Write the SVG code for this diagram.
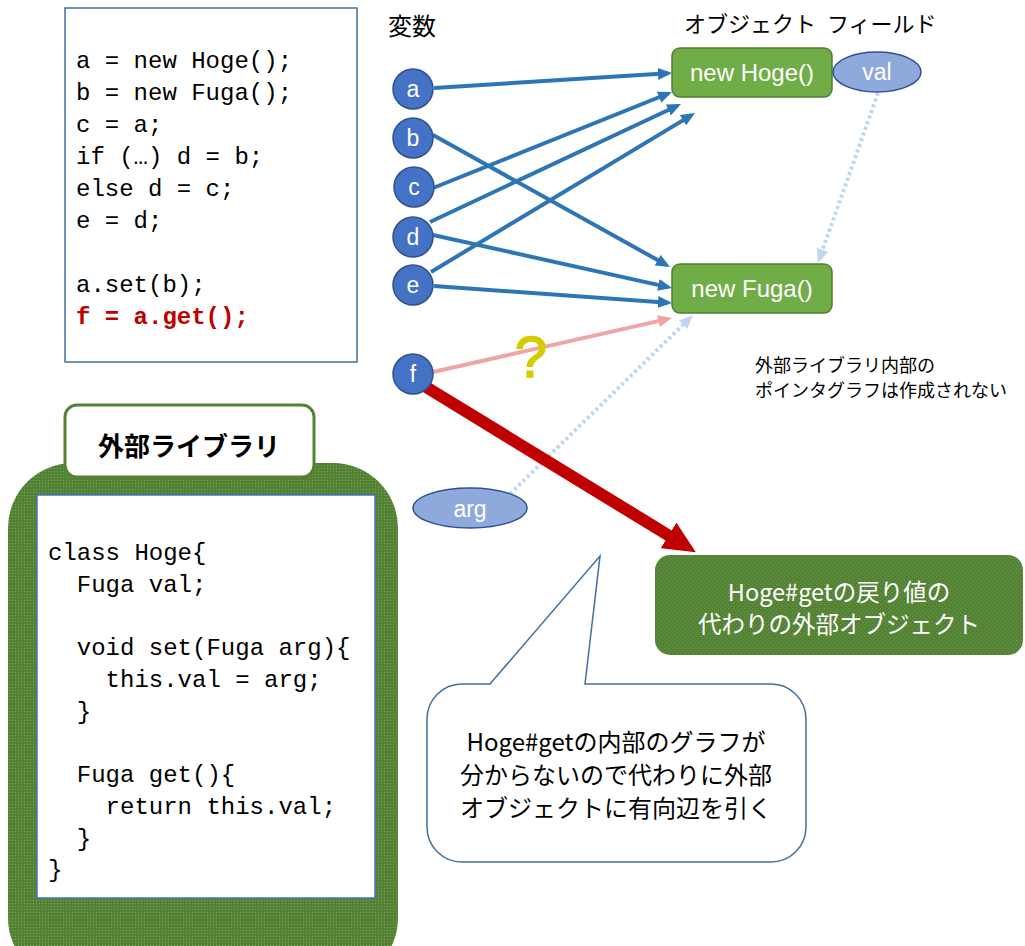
<svg xmlns="http://www.w3.org/2000/svg" width="1025" height="946" viewBox="0 0 1025 946">
<style>
.code{font-family:"Liberation Mono",monospace;font-size:24px;fill:#000}
.red{fill:#C00000;font-weight:bold}
.jp{font-family:"Noto Sans CJK JP",sans-serif}
.lbl{font-family:"Liberation Sans",sans-serif;fill:#fff;text-anchor:middle}
.var circle{fill:#4472C4;stroke:#2F528F;stroke-width:1.5}
.obj rect{fill:#70AD47;stroke:#507E32;stroke-width:1.5}
.fld ellipse{fill:#8EA9DB;stroke:#2F528F;stroke-width:1.5}
.blue{stroke:#2E75B6;stroke-width:4;fill:none;marker-end:url(#ab)}
.dot{stroke:#BDD7EE;stroke-width:4;fill:none;stroke-dasharray:3 3;marker-end:url(#al)}
</style>
<defs>
<marker id="ab" markerUnits="userSpaceOnUse" markerWidth="14" markerHeight="12" refX="10" refY="6" orient="auto"><path d="M0,0 L14,6 L0,12 Z" fill="#2E75B6"/></marker>
<marker id="al" markerUnits="userSpaceOnUse" markerWidth="14" markerHeight="12" refX="10" refY="6" orient="auto"><path d="M0,0 L14,6 L0,12 Z" fill="#BDD7EE"/></marker>
<marker id="ap" markerUnits="userSpaceOnUse" markerWidth="14" markerHeight="12" refX="10" refY="6" orient="auto"><path d="M0,0 L14,6 L0,12 Z" fill="#F0A5A5"/></marker>
<marker id="ar" markerUnits="userSpaceOnUse" markerWidth="32" markerHeight="30" refX="2" refY="15" orient="auto"><path d="M0,0 L32,15 L0,30 Z" fill="#C00000"/></marker>
<pattern id="gp" width="3" height="3" patternUnits="userSpaceOnUse"><rect width="3" height="3" fill="#548235"/><rect width="1" height="1" fill="#7BA35C"/></pattern>
<pattern id="gp2" width="4" height="4" patternUnits="userSpaceOnUse"><rect width="4" height="4" fill="#548235"/><rect x="0" y="0" width="1" height="1" fill="#6F9B50"/><rect x="2" y="2" width="1" height="1" fill="#6F9B50"/></pattern>
</defs>

<g id="code-main">
<rect x="65" y="8" width="292" height="354" fill="#fff" stroke="#41719C" stroke-width="1.5"/>
<text class="code" x="76" y="68">a = new Hoge();</text>
<text class="code" x="76" y="100">b = new Fuga();</text>
<text class="code" x="76" y="132">c = a;</text>
<text class="code" x="76" y="164">if (…) d = b;</text>
<text class="code" x="76" y="196">else d = c;</text>
<text class="code" x="76" y="228">e = d;</text>
<text class="code" x="76" y="292">a.set(b);</text>
<text class="code red" x="76" y="324">f = a.get();</text>
</g>

<g id="library">
<rect x="8" y="463" width="390" height="520" rx="65" fill="url(#gp)"/>
<rect x="37" y="495" width="338" height="403" fill="#fff" stroke="#4472C4" stroke-width="1.5"/>
<rect x="65" y="405" width="249" height="72" rx="12" fill="#fff" stroke="#548235" stroke-width="3"/>
<text class="jp" x="189" y="456" font-size="26" font-weight="bold" text-anchor="middle">外部ライブラリ</text>
<text class="code" x="48" y="560">class Hoge{</text>
<text class="code" x="76.8" y="592">Fuga val;</text>
<text class="code" x="76.8" y="655">void set(Fuga arg){</text>
<text class="code" x="105.6" y="687">this.val = arg;</text>
<text class="code" x="76.8" y="719">}</text>
<text class="code" x="76.8" y="782">Fuga get(){</text>
<text class="code" x="105.6" y="814">return this.val;</text>
<text class="code" x="76.8" y="846">}</text>
<text class="code" x="48" y="877">}</text>
</g>

<g id="titles">
<text class="jp" x="388" y="35" font-size="24">変数</text>
<text class="jp" font-size="22" y="32"><tspan x="684">オブジェクト</tspan><tspan x="827">フィールド</tspan></text>
<text class="jp" x="755" y="372" font-size="18">外部ライブラリ内部の</text>
<text class="jp" x="755" y="397" font-size="18">ポインタグラフは作成されない</text>
</g>

<g id="connectors">
<line class="blue" x1="434" y1="88" x2="668" y2="73.3"/>
<line class="blue" x1="433" y1="188" x2="668.3" y2="93.5"/>
<line class="blue" x1="430" y1="222" x2="677.4" y2="105.7"/>
<line class="blue" x1="431" y1="272" x2="691.6" y2="115.1"/>
<line class="blue" x1="433" y1="135" x2="666.5" y2="265"/>
<line class="blue" x1="433" y1="235" x2="668.1" y2="287.1"/>
<line class="blue" x1="434" y1="286" x2="668" y2="302.7"/>
<line x1="433" y1="372" x2="668.1" y2="318.9" stroke="#F0A5A5" stroke-width="4" marker-end="url(#ap)"/>
<line class="dot" x1="878" y1="93" x2="819.3" y2="259.2"/>
<line class="dot" x1="510" y1="494" x2="690.1" y2="317.8"/>
<line x1="426" y1="387" x2="670.3" y2="536.5" stroke="#C00000" stroke-width="12" marker-end="url(#ar)"/>
</g>

<g id="var-a" class="var"><circle cx="413" cy="89" r="20"/><text class="lbl" x="413" y="97" font-size="23">a</text></g>
<g id="var-b" class="var"><circle cx="413" cy="138" r="20"/><text class="lbl" x="413" y="146" font-size="23">b</text></g>
<g id="var-c" class="var"><circle cx="414" cy="187" r="20"/><text class="lbl" x="414" y="195" font-size="23">c</text></g>
<g id="var-d" class="var"><circle cx="413" cy="237" r="20"/><text class="lbl" x="413" y="245" font-size="23">d</text></g>
<g id="var-e" class="var"><circle cx="413" cy="285" r="20"/><text class="lbl" x="413" y="293" font-size="23">e</text></g>
<g id="var-f" class="var"><circle cx="413" cy="374" r="20"/><text class="lbl" x="413" y="382" font-size="23">f</text></g>

<g id="obj-hoge" class="obj"><rect x="672" y="48" width="160" height="49" rx="8"/><text class="lbl" x="752" y="81" font-size="24">new Hoge()</text></g>
<g id="obj-fuga" class="obj"><rect x="672" y="264" width="160" height="49" rx="8"/><text class="lbl" x="752" y="297" font-size="24">new Fuga()</text></g>
<g id="field-val" class="fld"><ellipse cx="877" cy="72" rx="44" ry="20"/><text class="lbl" x="877" y="80" font-size="23">val</text></g>
<g id="field-arg" class="fld"><ellipse cx="470" cy="508" rx="57" ry="20"/><text class="lbl" x="470" y="517" font-size="23">arg</text></g>

<g id="question"><text x="531" y="377" font-family="Liberation Sans,sans-serif" font-size="58" fill="#D4CC00" stroke="#D4CC00" stroke-width="1.5" text-anchor="middle">?</text></g>

<g id="external-obj">
<rect x="655" y="555" width="368" height="100" rx="15" fill="url(#gp2)"/>
<text class="jp" x="839" y="601" font-size="23.5" fill="#fff" text-anchor="middle">Hoge#getの戻り値の</text>
<text class="jp" x="839" y="633" font-size="23.5" fill="#fff" text-anchor="middle">代わりの外部オブジェクト</text>
</g>

<g id="callout">
<path d="M462,684 L490,684 L600,556 L585,684 L771,684 A35,35 0 0 1 806,719 L806,827 A35,35 0 0 1 771,862 L462,862 A35,35 0 0 1 427,827 L427,719 A35,35 0 0 1 462,684 Z" fill="#fff" stroke="#41719C" stroke-width="1.5"/>
<text class="jp" x="616" y="751" font-size="24" text-anchor="middle">Hoge#getの内部のグラフが</text>
<text class="jp" x="616" y="784" font-size="24" text-anchor="middle">分からないので代わりに外部</text>
<text class="jp" x="616" y="817" font-size="24" text-anchor="middle">オブジェクトに有向辺を引く</text>
</g>
</svg>
